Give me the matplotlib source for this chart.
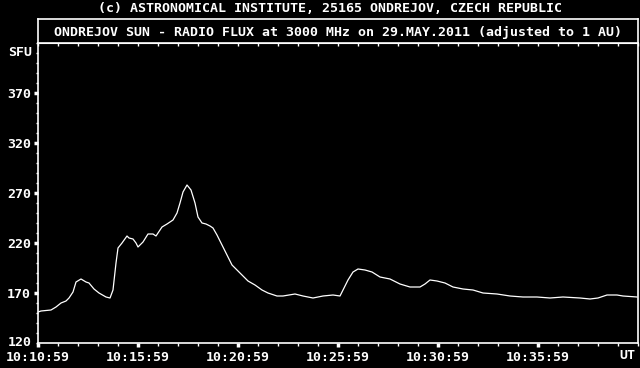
import matplotlib
matplotlib.use("Agg")
import matplotlib.pyplot as plt
from matplotlib.ticker import MultipleLocator

# minutes after 10:10:59 UT and flux in SFU
minutes = [0, 0.15, 0.65, 0.9, 1.15, 1.4, 1.55, 1.75, 1.9, 2.15, 2.4, 2.55, 2.8, 3.05,
           3.4, 3.6, 3.75, 3.9, 4.0, 4.2, 4.45, 4.55, 4.75, 4.9, 5.0,
           5.25, 5.5, 5.75, 5.9, 6.2, 6.45, 6.75, 6.95, 7.1, 7.25, 7.45, 7.65, 7.85,
           8.0, 8.2, 8.4, 8.6, 8.75, 8.95, 9.2, 9.45, 9.7,
           9.85, 10.2, 10.5, 10.85, 11.2, 11.5, 11.95, 12.25, 12.85, 13.25, 13.75,
           14.25, 14.75, 15.1,
           15.25, 15.5, 15.75, 16.0, 16.35, 16.7, 17.1, 17.6, 18.1, 18.6, 19.1,
           19.35, 19.6, 19.95,
           20.35, 20.75, 21.25, 21.75, 22.25, 22.95, 23.6, 24.25, 24.95, 25.6,
           26.25, 27.1, 27.6, 28.0, 28.45, 28.95, 29.25, 29.95]
flux = [151, 152, 153, 156, 160, 162, 165, 171, 181, 184, 181, 180, 174, 170,
        166, 165, 173, 200, 215, 220, 227, 225, 224, 220, 216,
        221, 229, 229, 227, 236, 239, 243, 250, 260, 271, 278, 273, 260,
        246, 240, 239, 237, 235, 228, 218, 208, 198,
        195, 188, 182, 178, 173, 170, 167, 167, 169, 167, 165,
        167, 168, 167,
        173, 183, 191, 194, 193, 191, 186, 184, 179, 176, 176,
        179, 183, 182,
        180, 176, 174, 173, 170, 169, 167, 166, 166, 165,
        166, 165, 164, 165, 168, 168, 167, 166]

tick_min = [0, 5, 10, 15, 20, 25]
tick_lab = ["10:10:59", "10:15:59", "10:20:59", "10:25:59", "10:30:59", "10:35:59"]
ytick_vals = [170, 220, 270, 320, 370]

W, H = 640, 368
fnt = dict(family="DejaVu Sans Mono", size=9.5, weight="bold", color="white")

fig = plt.figure(figsize=(6.4, 3.68), dpi=100, facecolor="black")
ax = fig.add_axes([38 / W, (H - 343) / H, 600 / W, 300 / H], facecolor="black")
box = fig.add_axes([38 / W, (H - 43) / H, 600 / W, 24 / H], facecolor="black")

ax.plot(minutes, flux, color="white", lw=0.9)
ax.set_xlim(0, 30)
ax.set_ylim(120, 420)

for s in ax.spines.values():
    s.set_color("white")
    s.set_linewidth(1.2)
for s in box.spines.values():
    s.set_color("white")
    s.set_linewidth(1.2)
box.set_xticks([])
box.set_yticks([])
box.text(0.5, 0.45, "ONDREJOV SUN - RADIO FLUX at 3000 MHz on 29.MAY.2011 (adjusted to 1 AU)",
         ha="center", va="center", transform=box.transAxes, **fnt)

ax.set_xticks(tick_min)
ax.set_xticklabels(tick_lab)
ax.xaxis.set_minor_locator(MultipleLocator(1))
ax.tick_params(axis="x", which="major", direction="out", length=3, width=2.5,
               color="white", pad=3)
ax.tick_params(axis="x", which="minor", direction="out", length=2.5, width=1,
               color="white")
ax.set_yticks(ytick_vals)
ax.set_yticklabels([str(v) for v in ytick_vals])
ax.yaxis.set_minor_locator(MultipleLocator(10))
ax.tick_params(axis="y", which="major", direction="out", length=3, width=2.5,
               color="white", pad=2)
ax.tick_params(axis="y", which="minor", direction="out", length=1.5, width=1,
               color="white")
for lab in ax.get_xticklabels() + ax.get_yticklabels():
    lab.set_fontfamily(fnt["family"])
    lab.set_fontsize(fnt["size"])
    lab.set_fontweight(fnt["weight"])
    lab.set_color("white")

top = ax.secondary_xaxis("top")
top.set_xticks(tick_min)
top.set_xticklabels([])
top.xaxis.set_minor_locator(MultipleLocator(1))
top.tick_params(which="both", direction="in", length=2.5, width=1, color="white")
top.spines["top"].set_color("white")

ax.text(-0.01, 411, "SFU", ha="right", va="center",
        transform=ax.get_yaxis_transform(), **fnt)
ax.text(-0.01, 120, "120", ha="right", va="center",
        transform=ax.get_yaxis_transform(), **fnt)
ax.text(0.995, -0.043, "UT", ha="right", va="center", transform=ax.transAxes, **fnt)
fig.text(330 / W, 1 - 8 / H, "(c) ASTRONOMICAL INSTITUTE, 25165 ONDREJOV, CZECH REPUBLIC",
         ha="center", va="center", **fnt)

fig.savefig("out.png", dpi=100, facecolor="black")
